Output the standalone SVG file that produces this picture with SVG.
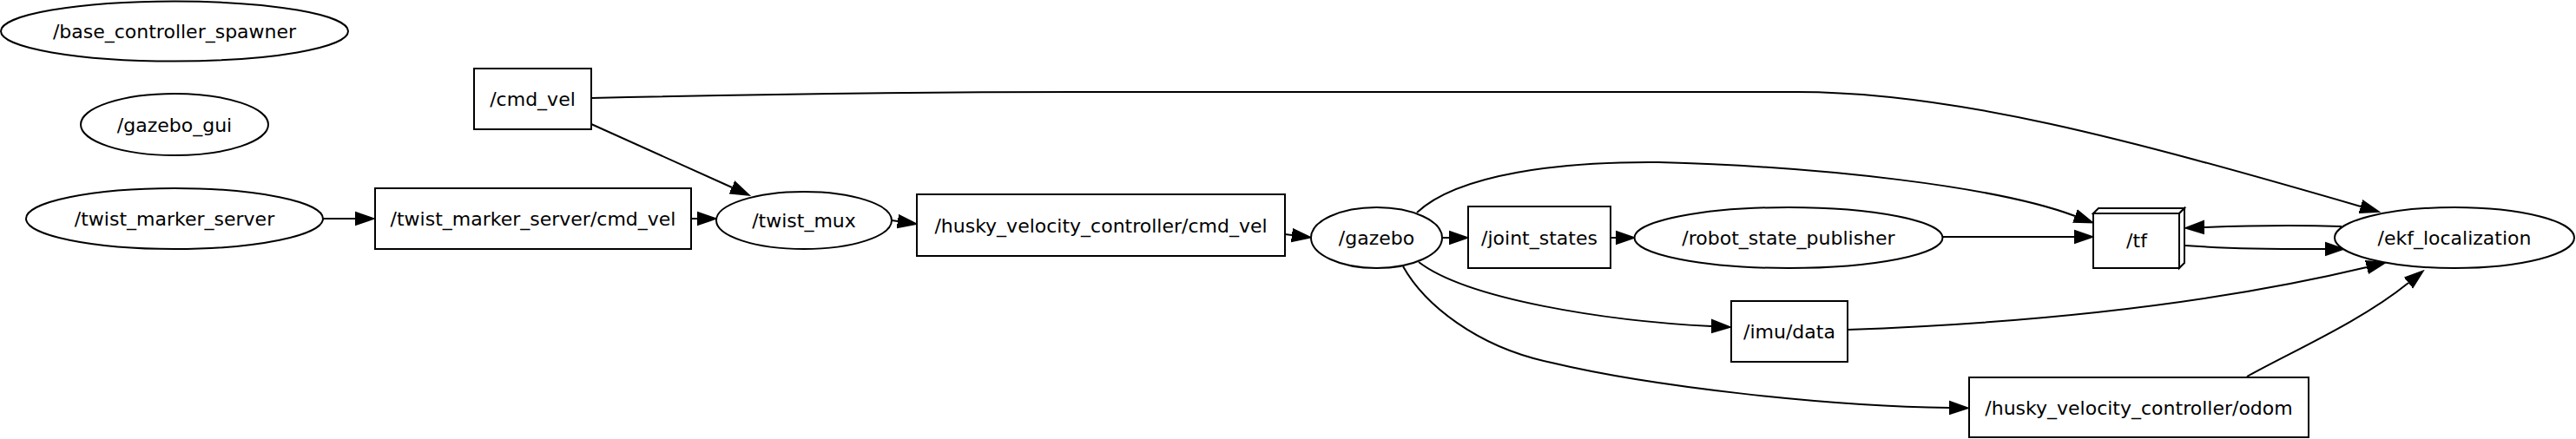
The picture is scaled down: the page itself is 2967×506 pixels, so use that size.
<svg xmlns="http://www.w3.org/2000/svg" width="2967" height="506" viewBox="0 0 2967 506">
<defs>
<style>
.n ellipse, .n rect, .n polygon { fill: #ffffff; stroke: #000000; stroke-width: 2; }
.n text { font-family: "DejaVu Sans", "Liberation Sans", sans-serif; font-size: 22px; text-anchor: middle; fill: #000000; }
.e path { fill: none; stroke: #000000; stroke-width: 2; marker-end: url(#ah); }
</style>
<marker id="ah" markerUnits="userSpaceOnUse" markerWidth="24" markerHeight="18" refX="0" refY="9" orient="auto" viewBox="0 0 24 18">
<path d="M0,1.5 L22,9 L0,16.5 Z" fill="#000000" stroke="#000000" stroke-width="1.5"/>
</marker>
</defs>
<rect width="2967" height="506" fill="#ffffff"/>
<g id="edges" class="e">
<path d="M372,252 L409,252"/>
<path d="M796,252 L803,252"/>
<path d="M681,143 L843,216"/>
<path d="M1027,254 L1034,255"/>
<path d="M1480,270 L1488,271"/>
<path d="M1661,274 L1669,274"/>
<path d="M1855,274 L1861,274"/>
<path d="M2238,273 L2389,273"/>
<path d="M1632,245 C1680,200 1800,186 1910,187 C2100,192 2300,215 2390,249"/>
<path d="M2697,261 C2640,259 2590,260 2539,262"/>
<path d="M2517,283 C2570,287 2620,287 2678,287"/>
<path d="M681,113 C900,108 1100,106 1240,106 L2070,106 C2250,106 2450,160 2719,238"/>
<path d="M1634,302 C1690,345 1850,370 1971,376"/>
<path d="M1616,307 C1640,350 1700,400 1787,418 C1900,445 2100,468 2245,470"/>
<path d="M2128,380 C2350,372 2550,350 2726,308"/>
<path d="M2588,434 C2640,405 2720,370 2774,326"/>
</g>
<g id="base_controller_spawner" class="n"><ellipse cx="201" cy="36" rx="200" ry="34.5"/><text x="201" y="44">/base_controller_spawner</text></g>
<g id="gazebo_gui" class="n"><ellipse cx="201" cy="143.5" rx="108" ry="35.5"/><text x="201" y="151.5">/gazebo_gui</text></g>
<g id="twist_marker_server" class="n"><ellipse cx="201" cy="252" rx="171" ry="35"/><text x="201" y="260">/twist_marker_server</text></g>
<g id="cmd_vel" class="n"><rect x="546" y="79" width="135" height="70"/><text x="613.5" y="122">/cmd_vel</text></g>
<g id="twist_marker_server_cmd_vel" class="n"><rect x="432" y="217" width="364" height="70"/><text x="614" y="260">/twist_marker_server/cmd_vel</text></g>
<g id="twist_mux" class="n"><ellipse cx="926" cy="254" rx="101" ry="33"/><text x="926" y="262">/twist_mux</text></g>
<g id="husky_velocity_controller_cmd_vel" class="n"><rect x="1056" y="224" width="424" height="71"/><text x="1268" y="267.5">/husky_velocity_controller/cmd_vel</text></g>
<g id="gazebo" class="n"><ellipse cx="1585.5" cy="274" rx="75.5" ry="35"/><text x="1585.5" y="282">/gazebo</text></g>
<g id="joint_states" class="n"><rect x="1691" y="238" width="164" height="71"/><text x="1773" y="281.5">/joint_states</text></g>
<g id="robot_state_publisher" class="n"><ellipse cx="2060" cy="274" rx="177.5" ry="35"/><text x="2060" y="282">/robot_state_publisher</text></g>
<g id="tf" class="n"><polygon points="2411,246 2417,240 2516,240 2510,246"/><polygon points="2510,246 2516,240 2516,303 2510,309"/><rect x="2411" y="246" width="99" height="63"/><text x="2461" y="285">/tf</text></g>
<g id="ekf_localization" class="n"><ellipse cx="2827" cy="274" rx="138" ry="35"/><text x="2827" y="282">/ekf_localization</text></g>
<g id="imu_data" class="n"><rect x="1994" y="347" width="134" height="70"/><text x="2061" y="390">/imu/data</text></g>
<g id="husky_velocity_controller_odom" class="n"><rect x="2268" y="435" width="391" height="69"/><text x="2463.5" y="477.5">/husky_velocity_controller/odom</text></g>
</svg>
